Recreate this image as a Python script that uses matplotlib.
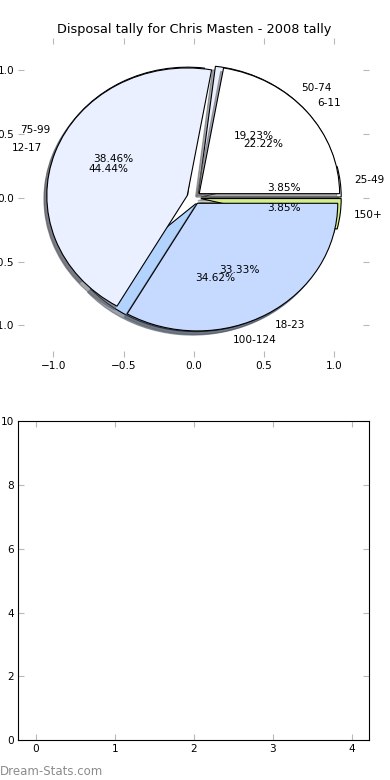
import matplotlib
matplotlib.use('Agg')
import matplotlib.pyplot as plt

# disposal ranges / games counted, two pies drawn on the same axes
title = 'Disposal tally for Chris Masten - 2008 tally'
ranges_a = ['6-11', '12-17', '18-23']
counts_a = [2, 4, 3]
ranges_b = ['25-49', '50-74', '75-99', '100-124', '150+']
counts_b = [1, 5, 10, 9, 1]
colors = ['#FFFFFF', '#EAF0FF', '#C6D9FF', '#B3D3FF', '#D4EE8C']
pie_ticks = [-1.0, -0.5, 0.0, 0.5, 1.0]
bar_xticks = [0, 1, 2, 3, 4]
bar_yticks = [0, 2, 4, 6, 8, 10]

plt.rcParams['font.family'] = 'DejaVu Sans'
plt.rcParams['font.size'] = 7.6
plt.rcParams['axes.unicode_minus'] = True

fig = plt.figure(figsize=(3.9, 7.8), dpi=100)
fig.subplots_adjust(left=0.047, right=0.947, bottom=0.051, top=0.951, hspace=0.2)

wp = {'edgecolor': 'black', 'linewidth': 0.8}
shad = {'ox': -0.015, 'oy': -0.02, 'shade': 0.6, 'alpha': 0.55}

ax = fig.add_subplot(2, 1, 1)
ax.pie(counts_b, explode=[0.05] * len(counts_b), labels=ranges_b, colors=colors,
       autopct='%1.2f%%', shadow=shad, frame=True, wedgeprops=wp)
# first pie sits underneath the second one
for p in ax.patches:
    p.set_zorder(p.get_zorder() * 0.5)
ax.pie(counts_a, explode=[0.05] * len(counts_a), labels=ranges_a, colors=colors[:3],
       autopct='%1.2f%%', shadow=shad, frame=True, wedgeprops=wp)
ax.set_aspect('auto')
ax.set_xlim(-1.25, 1.25)
ax.set_ylim(-1.25, 1.25)
ax.set_frame_on(False)
ax.set_xticks(pie_ticks)
ax.set_yticks(pie_ticks)
ax.tick_params(direction='in', length=4, color='#b8b8b8', top=True, right=True, pad=3)
ax.set_title(title, fontsize=9.3, pad=4)

ax2 = fig.add_subplot(2, 1, 2)
ax2.set_xlim(-0.22, 4.22)
ax2.set_ylim(0, 10)
ax2.set_xticks(bar_xticks)
ax2.set_yticks(bar_yticks)
ax2.tick_params(direction='in', length=4, color='#b8b8b8', top=True, right=True, pad=3)
for s in ax2.spines.values():
    s.set_linewidth(0.8)

fig.text(0.0, 0.0115, 'Dream-Stats.com', color='#8c8c8c', fontsize=8.5, ha='left', va='center')

fig.savefig('out.png', dpi=100, facecolor='white')
